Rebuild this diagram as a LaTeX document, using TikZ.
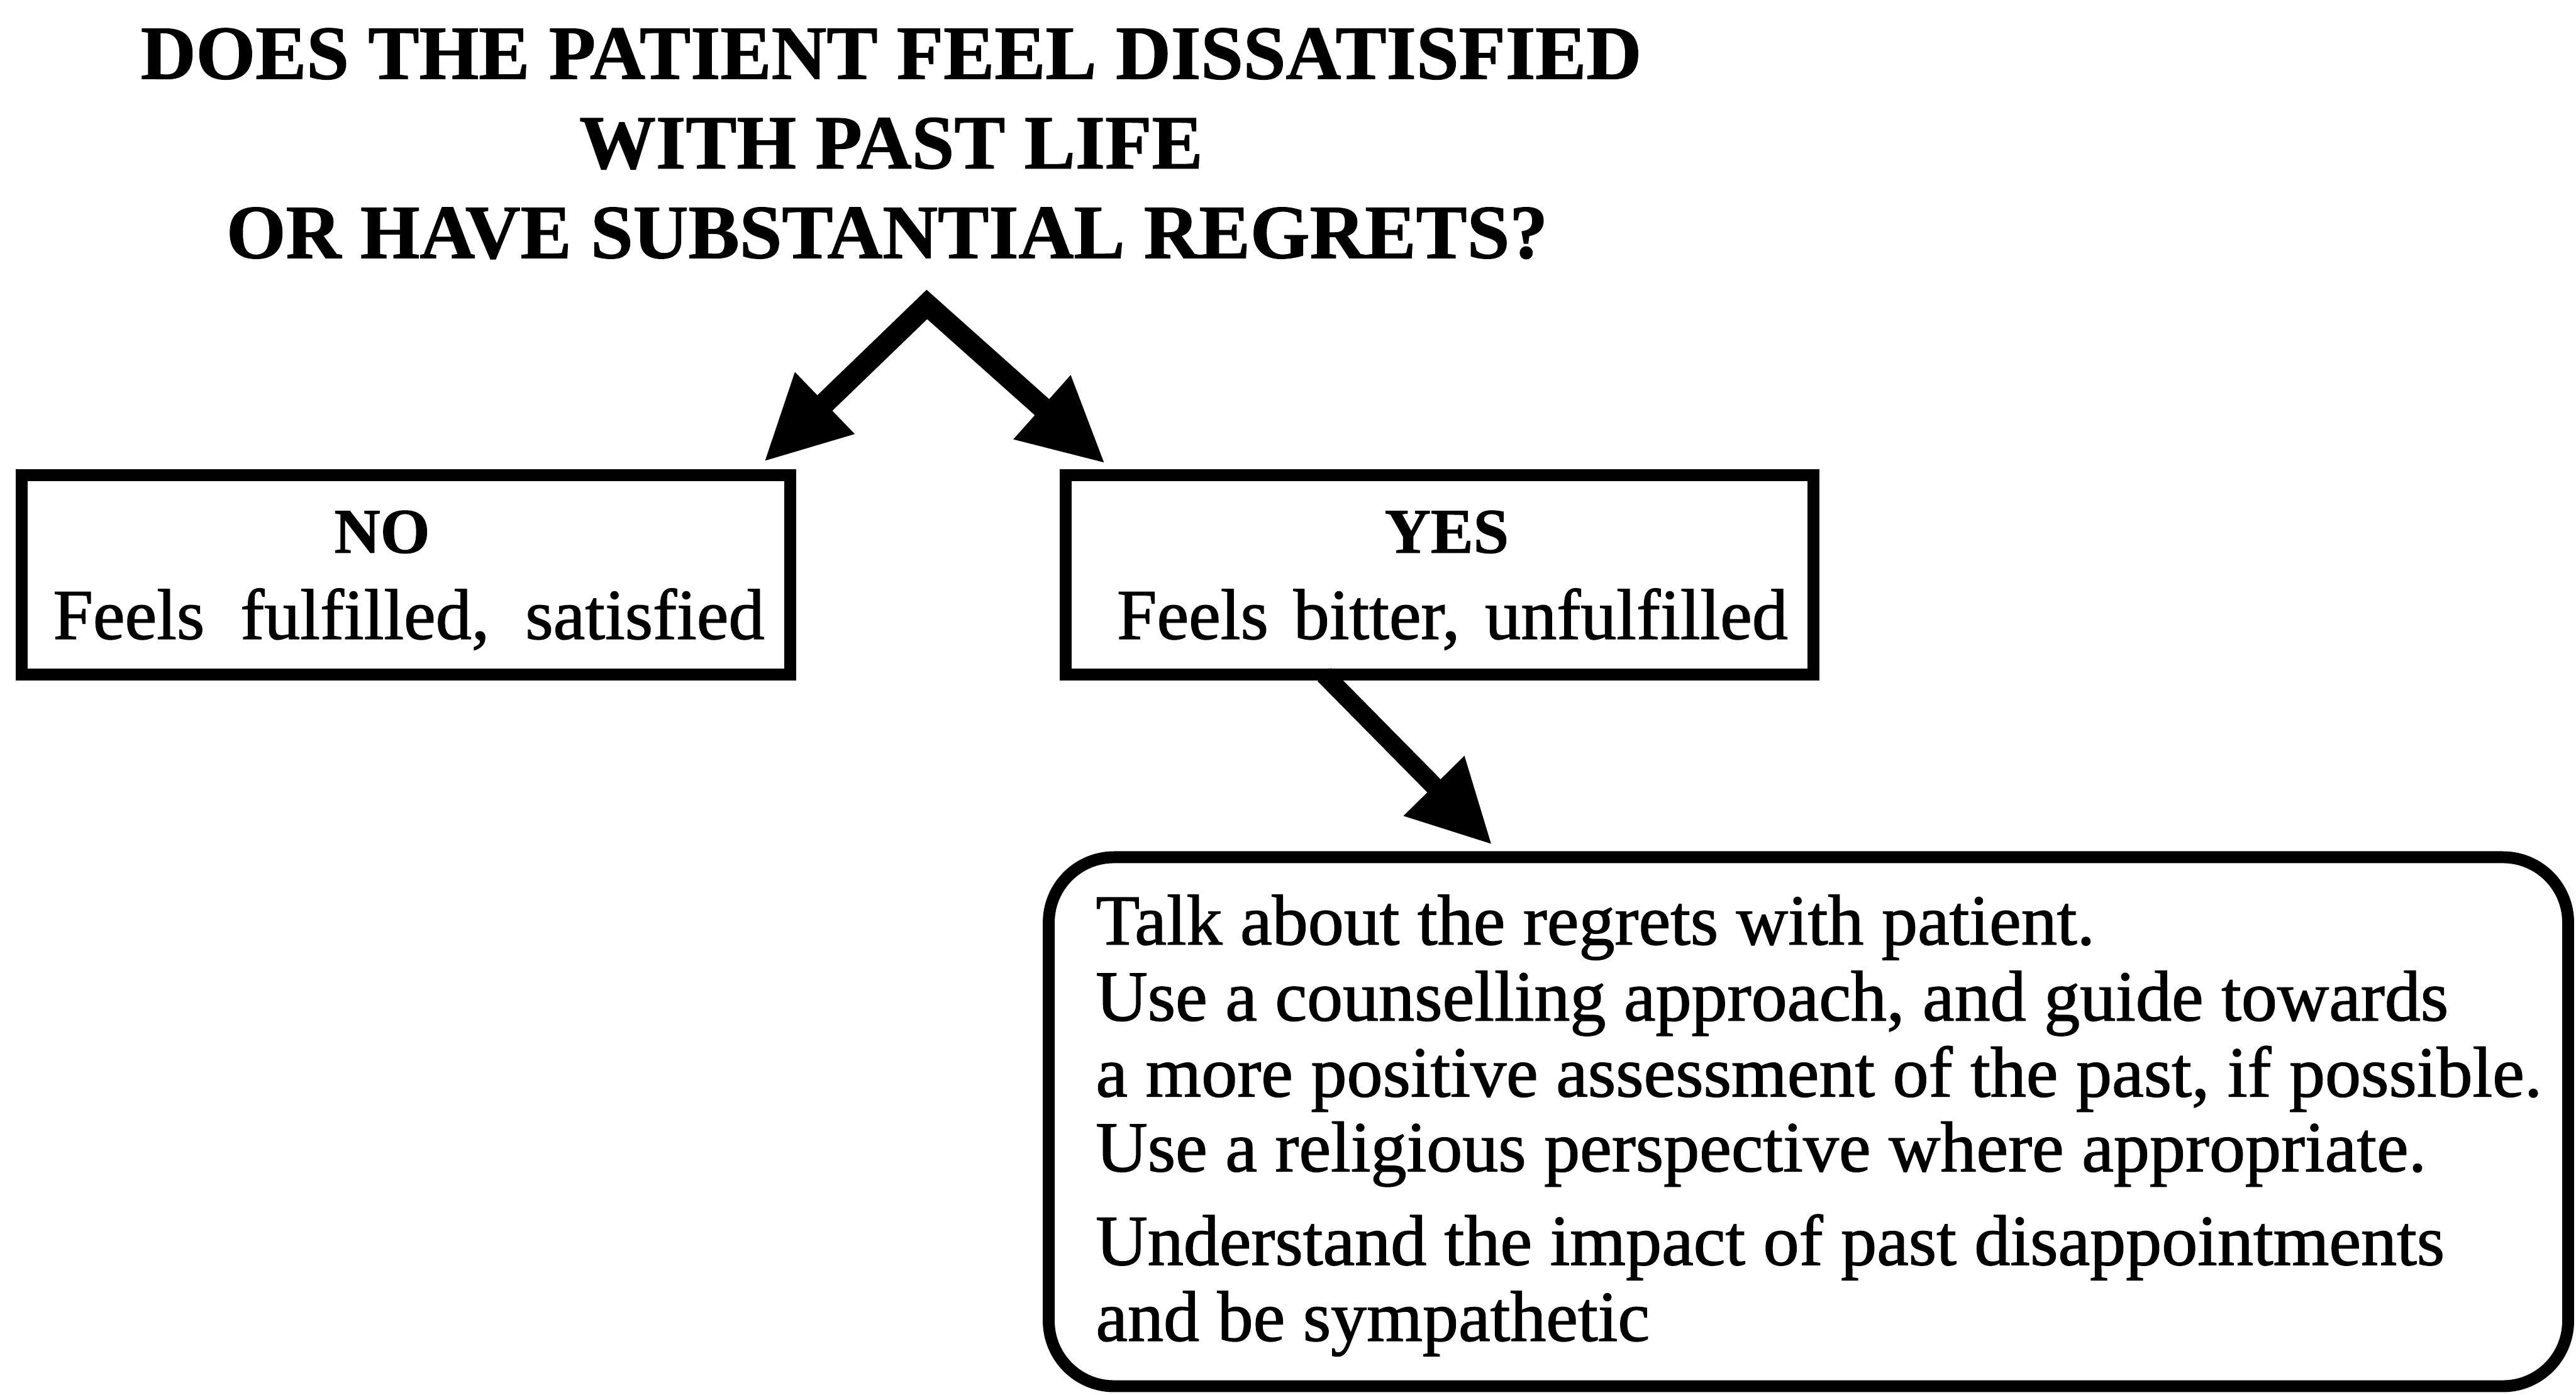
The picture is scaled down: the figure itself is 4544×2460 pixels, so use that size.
\documentclass[tikz,border=0pt]{standalone}
\usepackage{fontspec}
\setmainfont{Liberation Serif}[FakeBold=1.2]
\newfontfamily\headfont{Liberation Serif}[FakeBold=1.0]
\usetikzlibrary{arrows.meta,calc}
\begin{document}
\begin{tikzpicture}[x=0.05mm,y=-0.05mm,
  every node/.style={inner sep=0pt, outer sep=0pt},
  heading/.style={font=\headfont\fontsize{19.2}{22}\selectfont\bfseries, anchor=base},
  choice/.style={draw, line width=1.05mm, minimum height=17.6mm},
  tag/.style={font=\headfont\fontsize{16}{19}\selectfont\bfseries, anchor=base},
  desc/.style={font=\fontsize{18}{21}\selectfont, anchor=base},
  advice/.style={font=\fontsize{18}{21}\selectfont, anchor=base west},
  split arrow/.style={line width=1.9mm, line join=miter,
    arrows={Triangle[length=7.5mm,width=7mm]-Triangle[length=7.5mm,width=7mm]}},
  down arrow/.style={line width=1.65mm,
    arrows={-Triangle[length=7.3mm,width=7.05mm]}}
]
\useasboundingbox (0,0) rectangle (4544,2460);

% question heading
\node[heading] (q1) at (1572,139) {DOES THE PATIENT FEEL DISSATISFIED};
\node[heading] (q2) at (1572,297) {WITH PAST LIFE};
\node[heading] (q3) at (1565,455) {OR HAVE SUBSTANTIAL REGRETS?};

% the two answers
\node[choice, minimum width=67.8mm] (no) at (716,1014) {};
\node[tag] (notag) at (674,975) {NO};
\node[desc] (notext) at (721,1127) {Feels\hspace{0.5em}fulfilled,\hspace{0.5em}satisfied};

\node[choice, minimum width=65.95mm] (yes) at (2539.5,1014) {};
\node[tag] (yestag) at (2552,975) {YES};
\node[desc] (yestext) at (2562,1127) {Feels\hspace{0.35em}bitter,\hspace{0.35em}unfulfilled};

% advice for the YES branch
\node[draw, line width=1.05mm, rounded corners=5.75mm,
      minimum width=134mm, minimum height=46.65mm] (advicebox) at (3190,1978.5) {};
\node[advice] (l1) at (1933,1666) {Talk about the regrets with patient.};
\node[advice] (l2) at (1933,1800) {Use a counselling approach, and guide towards};
\node[advice] (l3) at (1933,1934) {a more positive assessment of the past, if possible.};
\node[advice] (l4) at (1933,2066) {Use a religious perspective where appropriate.};
\node[advice] (l5) at (1933,2231) {Understand the impact of past disappointments};
\node[advice] (l6) at (1933,2365) {and be sympathetic};

% connectors
\coordinate (apex) at (1635,537);
\coordinate (notip) at ($(no.north east)+(-47,-23)$);
\coordinate (yestip) at ($(yes.north west)+(70,-20)$);
\draw[split arrow] (notip) -- (apex) -- (yestip);

\coordinate (yesout) at ($(yes.south west)+(456,0)$);
\coordinate (advicein) at ($(advicebox.north west)+(782,-22)$);
\draw[down arrow] (yesout) -- (advicein);
\end{tikzpicture}
\end{document}
